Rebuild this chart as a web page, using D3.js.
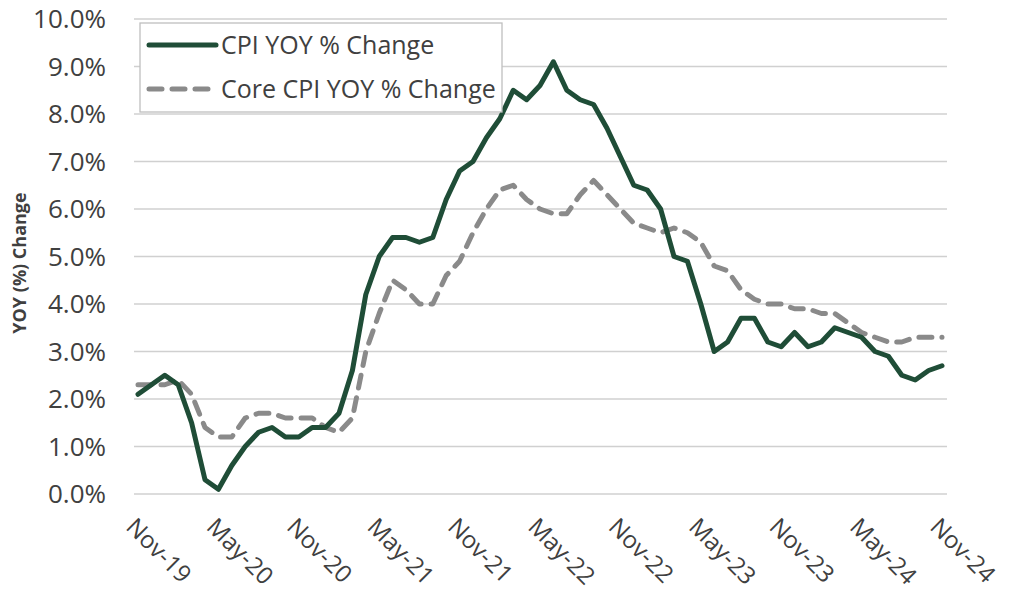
<!DOCTYPE html>
<html>
<head>
<meta charset="utf-8">
<script src="https://cdn.jsdelivr.net/npm/d3@7"></script>
<style>
  body { margin: 0; background: #fff; }
  svg text { font-family: "Open Sans", sans-serif; fill: #404040; }
</style>
</head>
<body>
<div id="chart"></div>
<script>
// monthly, Nov-19 .. Nov-24
const months = [];
const monthNames = ["Jan","Feb","Mar","Apr","May","Jun","Jul","Aug","Sep","Oct","Nov","Dec"];
for (let i = 0; i < 61; i++) {
    const m = (10 + i) % 12;
    const y = 19 + Math.floor((10 + i) / 12);
    months.push(monthNames[m] + "-" + y);
}

const cpi = [2.1, 2.3, 2.5, 2.3, 1.5, 0.3, 0.1, 0.6, 1.0, 1.3, 1.4, 1.2,
    1.2, 1.4, 1.4, 1.7, 2.6, 4.2, 5.0, 5.4, 5.4, 5.3, 5.4, 6.2,
    6.8, 7.0, 7.5, 7.9, 8.5, 8.3, 8.6, 9.1, 8.5, 8.3, 8.2, 7.7,
    7.1, 6.5, 6.4, 6.0, 5.0, 4.9, 4.0, 3.0, 3.2, 3.7, 3.7, 3.2,
    3.1, 3.4, 3.1, 3.2, 3.5, 3.4, 3.3, 3.0, 2.9, 2.5, 2.4, 2.6, 2.7];

const coreCpi = [2.3, 2.3, 2.3, 2.4, 2.1, 1.4, 1.2, 1.2, 1.6, 1.7, 1.7, 1.6,
    1.6, 1.6, 1.4, 1.3, 1.6, 3.0, 3.8, 4.5, 4.3, 4.0, 4.0, 4.6,
    4.9, 5.5, 6.0, 6.4, 6.5, 6.2, 6.0, 5.9, 5.9, 6.3, 6.6, 6.3,
    6.0, 5.7, 5.6, 5.5, 5.6, 5.5, 5.3, 4.8, 4.7, 4.3, 4.1, 4.0,
    4.0, 3.9, 3.9, 3.8, 3.8, 3.6, 3.4, 3.3, 3.2, 3.2, 3.3, 3.3, 3.3];

const yTicks = [0, 1, 2, 3, 4, 5, 6, 7, 8, 9, 10];
const xTickLabels = ["Nov-19", "May-20", "Nov-20", "May-21", "Nov-21", "May-22",
    "Nov-22", "May-23", "Nov-23", "May-24", "Nov-24"];

const seriesNames = ["CPI YOY % Change", "Core CPI YOY % Change"];

const width = 1009, height = 595;
const green = "#1f4d37", gray = "#8a8a8a";

const svg = d3.select("#chart").append("svg")
    .attr("width", width)
    .attr("height", height);

const x = d3.scalePoint()
    .domain(months)
    .range([138, 942]);

const y = d3.scaleLinear()
    .domain([0, 10])
    .range([494, 19]);

// gridlines
svg.append("g")
    .selectAll("line")
    .data(yTicks)
    .enter()
    .append("line")
    .attr("x1", 134)
    .attr("x2", 947)
    .attr("y1", d => y(d))
    .attr("y2", d => y(d))
    .attr("stroke", "#d0d0d0")
    .attr("stroke-width", 1.3);

// y labels
svg.append("g")
    .selectAll("text")
    .data(yTicks)
    .enter()
    .append("text")
    .attr("x", 106)
    .attr("y", d => y(d))
    .attr("dy", "0.36em")
    .attr("text-anchor", "end")
    .style("font-size", "26px")
    .text(d => d.toFixed(1) + "%");

// x labels
svg.append("g")
    .selectAll("text")
    .data(xTickLabels)
    .enter()
    .append("text")
    .attr("transform", d => `translate(${x(d) - 1}, 516) rotate(45)`)
    .attr("dy", "0.72em")
    .style("font-size", "24px")
    .text(d => d);

// y title
svg.append("text")
    .attr("transform", "translate(26, 263) rotate(-90)")
    .attr("text-anchor", "middle")
    .style("font-size", "18px")
    .style("font-weight", "bold")
    .text("YOY (%) Change");

const line = d3.line()
    .x((d, i) => x(months[i]))
    .y(d => y(d));

svg.append("path")
    .datum(coreCpi)
    .attr("d", line)
    .attr("fill", "none")
    .attr("stroke", gray)
    .attr("stroke-width", 5)
    .attr("stroke-linecap", "round")
    .attr("stroke-linejoin", "round")
    .attr("stroke-dasharray", "13,10");

svg.append("path")
    .datum(cpi)
    .attr("d", line)
    .attr("fill", "none")
    .attr("stroke", green)
    .attr("stroke-width", 5)
    .attr("stroke-linecap", "round")
    .attr("stroke-linejoin", "round");

// legend
const legend = svg.append("g");
legend.append("rect")
    .attr("x", 140)
    .attr("y", 23)
    .attr("width", 362)
    .attr("height", 89)
    .attr("fill", "#fff")
    .attr("stroke", "#bfbfbf")
    .attr("stroke-width", 1.3);

const legendRows = [
    { name: seriesNames[0], color: green, dash: null, cy: 45 },
    { name: seriesNames[1], color: gray, dash: "13,10", cy: 89 }
];

legendRows.forEach(r => {
    legend.append("line")
        .attr("x1", 149)
        .attr("x2", 216)
        .attr("y1", r.cy)
        .attr("y2", r.cy)
        .attr("stroke", r.color)
        .attr("stroke-width", 5)
        .attr("stroke-linecap", "round")
        .attr("stroke-dasharray", r.dash);
    legend.append("text")
        .attr("x", 221)
        .attr("y", r.cy)
        .attr("dy", "0.36em")
        .style("font-size", "25px")
        .text(r.name);
});
</script>
</body>
</html>
